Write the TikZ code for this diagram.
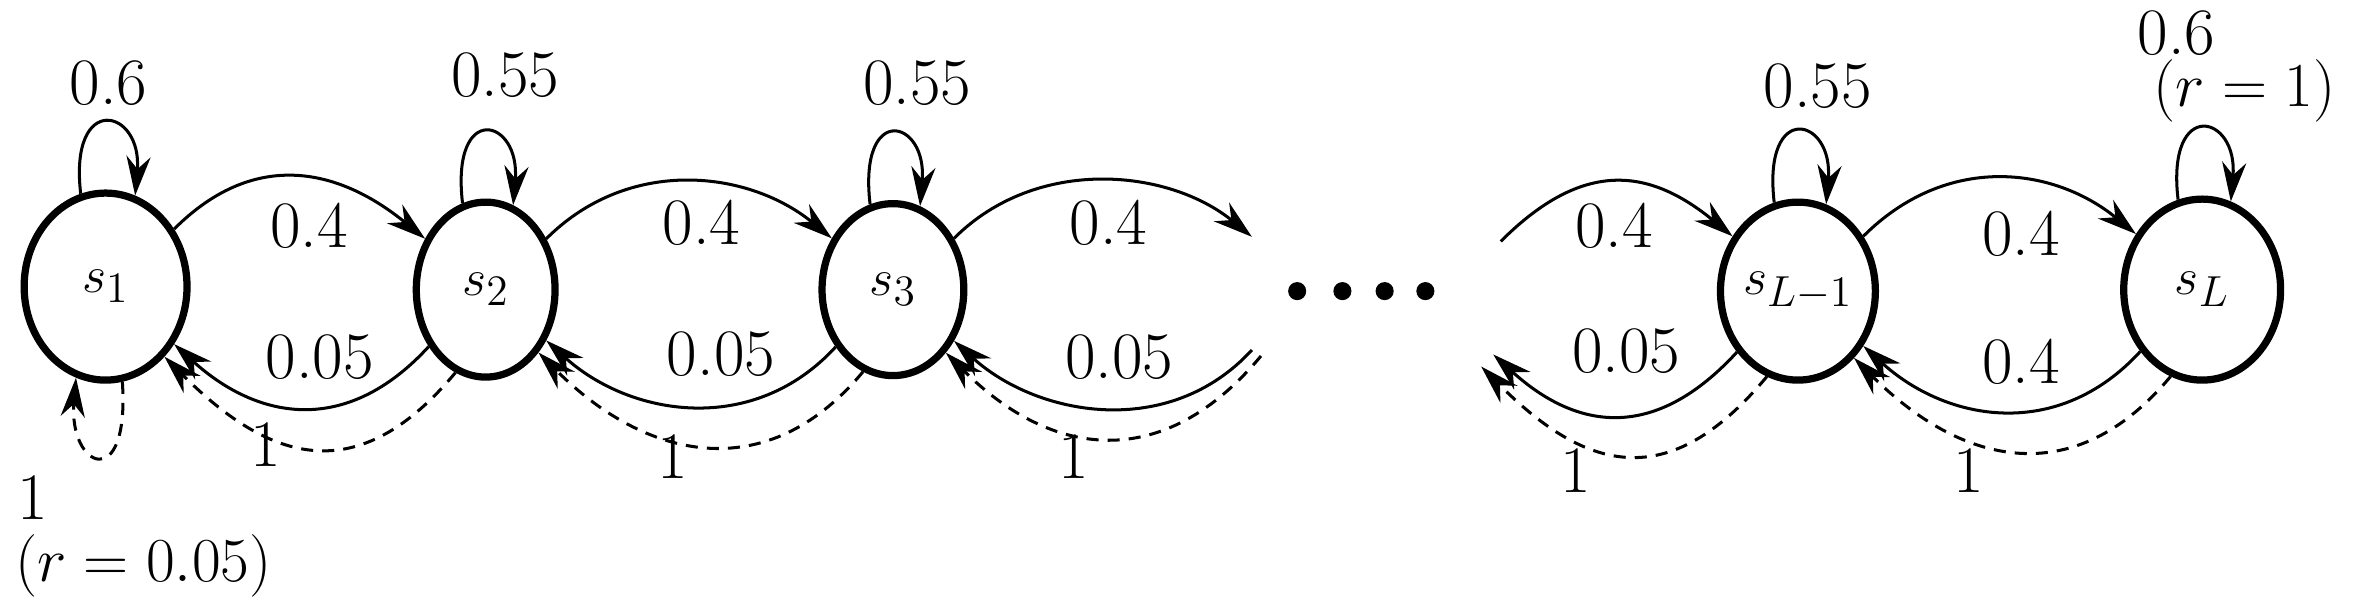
\documentclass[tikz,border=0pt]{standalone}
\usetikzlibrary{arrows.meta,shapes.geometric}
\begin{document}
\begin{tikzpicture}[x=0.5pt,y=-0.5pt,
  st/.style={draw,ellipse,line width=2.4pt,inner sep=0pt,font=\fontsize{19}{22}\selectfont},
  lab/.style={font=\fontsize{22}{26}\selectfont,inner sep=0pt},
  ed/.style={line width=1pt,-{Stealth[length=13pt,width=8pt]}},
  dd/.style={ed,dashed,dash pattern=on 4pt off 3pt}]
\useasboundingbox (0,0) rectangle (1560,403);
\node[st,minimum width=54pt,minimum height=62pt] (s1) at (70,190) {$s_1$};
\node[st,minimum width=46pt,minimum height=58pt] (s2) at (322,192) {$s_2$};
\node[st,minimum width=47pt,minimum height=57pt] (s3) at (592,192) {$s_3$};
\node[st,minimum width=46pt,minimum height=59pt] (s4) at (1192,193) {$s_{L-1}$};
\node[st,minimum width=52pt,minimum height=60pt] (s5) at (1460,192) {$s_L$};
\coordinate (a1) at (830,157); \coordinate (a2) at (830,232); \coordinate (a3) at (836,236);
\coordinate (b1) at (995,160); \coordinate (b2) at (990,235); \coordinate (b3) at (982,243);
\foreach \x/\n in {860/d1,890/d2,918/d3,945/d4} \fill (\x,193) circle (3pt) coordinate (\n);
% self loops
\foreach \s in {s1,s2,s3,s4,s5}
  \draw[ed] (\s.105) .. controls +(-8,-68) and +(5,-58) .. (\s.72);
\node[lab] (l1) at (72,55) {0.6};
\node[lab] (l2) at (335,50) {0.55};
\node[lab] (l3) at (608,55) {0.55};
\node[lab] (l4) at (1205,57) {0.55};
\node[lab] (l5) at (1443,22) {0.6};
\node[lab] (l5b) at (1488,60) {$(r=1)$};
% s1 bottom loop
\draw[dd] (s1.-80) .. controls +(5,75) and +(-5,60) .. (s1.-108);
\node[lab] (l6) at (22,330) {1};
\node[lab] (l7) at (95,375) {$(r=0.05)$};
% forward arcs
\draw[ed] (s1.40) .. controls +(55,-55) and +(-55,-45) .. (s2.140);
\draw[ed] (s2.40) .. controls +(55,-55) and +(-55,-45) .. (s3.140);
\draw[ed] (s3.40) .. controls +(55,-55) and +(-55,-45) .. (a1);
\draw[ed] (b1) .. controls +(55,-55) and +(-55,-45) .. (s4.140);
\draw[ed] (s4.40) .. controls +(55,-55) and +(-55,-45) .. (s5.140);
\node[lab] (f1) at (205,150) {0.4};
\node[lab] (f2) at (465,148) {0.4};
\node[lab] (f3) at (735,148) {0.4};
\node[lab] (f4) at (1070,150) {0.4};
\node[lab] (f5) at (1340,155) {0.4};
% backward solid
\draw[ed] (s2.225) .. controls +(-55,60) and +(55,50) .. (s1.-40);
\draw[ed] (s3.225) .. controls +(-55,60) and +(55,50) .. (s2.-40);
\draw[ed] (a2) .. controls +(-55,60) and +(55,50) .. (s3.-40);
\draw[ed] (s4.225) .. controls +(-55,60) and +(55,50) .. (b2);
\draw[ed] (s5.225) .. controls +(-55,60) and +(55,50) .. (s4.-40);
\node[lab] (g1) at (212,237) {0.05};
\node[lab] (g2) at (478,235) {0.05};
\node[lab] (g3) at (742,237) {0.05};
\node[lab] (g4) at (1078,233) {0.05};
\node[lab] (g5) at (1340,240) {0.4};
% backward dashed
\draw[dd] (s2.250) .. controls +(-65,78) and +(70,70) .. (s1.-50);
\draw[dd] (s3.250) .. controls +(-65,78) and +(70,70) .. (s2.-50);
\draw[dd] (a3) .. controls +(-65,78) and +(70,70) .. (s3.-50);
\draw[dd] (s4.250) .. controls +(-65,78) and +(70,70) .. (b3);
\draw[dd] (s5.250) .. controls +(-65,78) and +(70,70) .. (s4.-50);
\node[lab] (h1) at (176,295) {1};
\node[lab] (h2) at (446,303) {1};
\node[lab] (h3) at (712,303) {1};
\node[lab] (h4) at (1045,312) {1};
\node[lab] (h5) at (1305,312) {1};
\end{tikzpicture}
\end{document}
